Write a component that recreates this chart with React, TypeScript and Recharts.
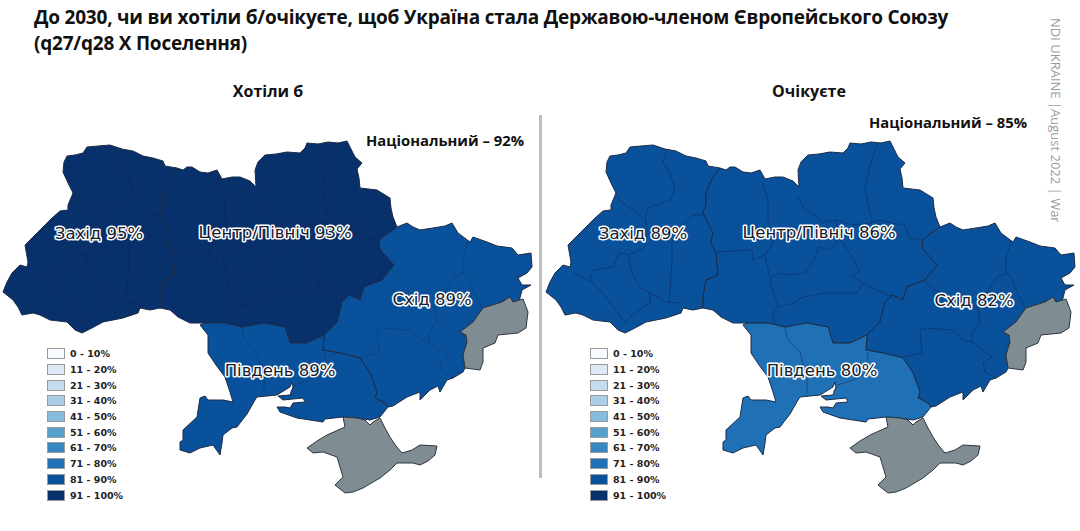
import React from "react";
import { ScatterChart, Scatter, XAxis, YAxis, Legend } from "recharts";

type Pt = [number, number];

const regionNames = ["Захід", "Центр/Північ", "Схід", "Південь"];
const wantValues = [95, 93, 89, 89];
const expectValues = [89, 86, 82, 80];
const labelAnchors: Pt[] = [[99, 233], [275, 232], [432, 299], [280, 370]];
const expectAnchors: Pt[] = [[100, 233], [276, 232], [431, 300], [279, 370]];
const nationalValues = [92, 85];
const panelTitles = ["Хотіли б", "Очікуєте"];
const legendLabels = ["0 - 10%", "11 - 20%", "21 - 30%", "31 - 40%", "41 - 50%", "51 - 60%", "61 - 70%", "71 - 80%", "81 - 90%", "91 - 100%"];
const legendColors = ["#F7FBFF", "#DEEBF7", "#C6DBEF", "#ABCFE6", "#85BCDC", "#57A0CE", "#3787C0", "#2070B6", "#0A519C", "#08306B"];

const westOutline: Pt[] = [[64,162],[67,156],[75,155],[83,153],[87,147],[98,146],[110,145],[122,149],[133,151],[143,156],[153,158],[163,161],[165,166],[177,168],[170,177],[163,193],[163,205],[160,213],[165,223],[170,233],[168,243],[173,253],[175,275],[163,280],[160,297],[160,308],[150,310],[140,308],[138,313],[123,318],[103,322],[92,328],[82,333],[75,330],[67,322],[50,320],[40,315],[33,313],[22,315],[18,307],[13,300],[3,292],[7,282],[12,273],[20,265],[27,267],[28,262],[25,245],[34,236],[43,227],[52,218],[60,211],[68,210],[68,205],[73,193],[68,183],[63,172]];
const centerOutline: Pt[] = [[177,168],[183,170],[187,167],[192,167],[200,172],[208,173],[217,170],[222,179],[232,177],[240,177],[250,181],[256,187],[255,170],[258,162],[265,155],[276,154],[287,152],[300,153],[305,148],[307,143],[318,144],[328,142],[338,143],[347,141],[351,149],[355,157],[362,163],[357,169],[359,178],[360,188],[377,190],[390,198],[391,208],[393,217],[397,227],[380,239],[379,248],[394,265],[382,280],[364,287],[360,300],[349,295],[342,302],[337,322],[324,335],[307,343],[290,343],[285,327],[264,323],[242,327],[225,323],[204,323],[190,323],[178,317],[170,310],[160,308],[160,297],[163,280],[175,275],[173,253],[168,243],[170,233],[165,223],[160,213],[163,205],[163,193],[170,177]];
const eastOutline: Pt[] = [[397,227],[407,223],[413,227],[420,230],[433,228],[445,226],[452,223],[458,233],[470,242],[473,237],[487,242],[497,246],[512,248],[518,255],[531,253],[532,267],[527,273],[518,278],[522,285],[531,285],[522,290],[519,302],[513,302],[510,297],[502,302],[483,308],[473,322],[460,332],[466,335],[467,342],[463,355],[465,368],[463,372],[453,378],[447,380],[440,392],[438,386],[430,390],[420,400],[420,392],[407,397],[393,406],[388,407],[385,403],[375,398],[377,392],[370,373],[360,358],[340,353],[323,350],[324,335],[337,322],[342,302],[349,295],[360,300],[364,287],[382,280],[394,265],[379,248],[380,239]];
const southOutline: Pt[] = [[204,323],[225,323],[242,327],[264,323],[285,327],[290,343],[307,343],[324,335],[323,350],[340,353],[360,358],[370,373],[377,392],[375,398],[385,403],[388,407],[380,417],[370,420],[357,418],[343,417],[325,419],[323,422],[297,418],[280,412],[277,407],[285,407],[290,408],[293,403],[305,402],[303,398],[283,400],[278,396],[290,395],[293,387],[292,382],[290,387],[277,395],[257,397],[255,400],[247,414],[237,427],[232,428],[223,435],[222,443],[220,455],[213,445],[200,448],[190,453],[180,450],[180,442],[183,440],[183,430],[197,417],[200,398],[205,396],[208,400],[223,400],[233,402],[230,392],[225,377],[216,365],[208,353],[208,335],[200,325]];
const donbasOutline: Pt[] = [[460,332],[473,322],[483,308],[502,302],[510,297],[513,302],[523,299],[528,312],[526,328],[518,333],[498,335],[495,343],[483,348],[483,362],[480,370],[465,368],[463,355],[467,342],[466,335]];
const crimeaOutline: Pt[] = [[343,417],[345,427],[327,435],[317,441],[307,448],[313,453],[323,452],[337,457],[340,467],[343,477],[335,485],[345,493],[353,492],[363,488],[380,478],[390,470],[397,463],[413,463],[420,465],[428,461],[435,455],[437,446],[420,445],[412,450],[402,453],[396,446],[390,437],[385,428],[380,418],[373,422],[370,425],[365,420],[357,418]];

const internalBorders: Pt[][] = [
  [[124,150],[120,162],[127,173],[132,190],[127,200],[105,208],[102,217],[104,230],[102,247]],
  [[72,193],[79,203],[90,210],[100,218]],
  [[160,215],[150,215],[140,225],[129,240],[129,263],[126,303]],
  [[102,247],[85,255],[77,253],[70,267],[50,270],[47,280],[63,297],[74,312],[82,323]],
  [[85,255],[89,273],[97,287],[107,293],[124,302],[137,303]],
  [[107,293],[107,303],[89,315],[82,323]],
  [[30,273],[47,281]],
  [[220,183],[225,200],[225,220],[230,243],[222,255],[210,260],[209,250],[174,252]],
  [[255,197],[262,210],[272,215],[279,222],[292,220],[295,230],[294,243],[285,250],[275,247],[272,258],[262,273],[247,275],[237,273],[227,278],[222,255]],
  [[334,145],[327,165],[322,190],[329,220],[327,223],[310,225],[292,220]],
  [[295,237],[307,253],[317,272],[309,275],[320,283],[334,290],[349,297]],
  [[327,223],[337,220],[357,225],[360,223],[367,238],[379,240]],
  [[227,278],[227,283],[235,307],[252,303],[257,298],[280,293],[314,293],[320,283]],
  [[235,307],[229,315],[232,325]],
  [[468,240],[463,258],[463,273],[454,277],[447,288],[435,308],[437,322],[429,332],[429,342]],
  [[463,273],[468,277],[474,292],[482,308]],
  [[382,282],[392,290],[410,298],[435,308]],
  [[360,357],[379,353],[377,330],[382,328],[410,330],[420,340],[429,342],[449,357],[440,363],[442,372],[454,378]],
  [[242,327],[244,338],[257,352],[264,380],[264,393]],
  [[325,352],[324,373],[310,380],[295,385],[290,392]],
];

const GREY = "#7F8C92";
const binColor = (v: number) => legendColors[Math.min(9, Math.floor((v - 1) / 10))];
const toPoints = (pts: Pt[]) => pts.map(([x, y]) => ({ x, y }));
const noShape = () => <g />;
const areaLine = (fill: string, stroke: string, width: number) => (p: any) => (
  <path
    d={"M" + p.points.map((q: any) => `${q.x},${q.y}`).join("L") + "Z"}
    fill={fill}
    stroke={stroke}
    strokeWidth={width}
    strokeLinejoin="round"
  />
);
const strokeLine = (stroke: string, width: number) => (p: any) => (
  <path
    d={"M" + p.points.map((q: any) => `${q.x},${q.y}`).join("L")}
    fill="none"
    stroke={stroke}
    strokeWidth={width}
    strokeLinejoin="round"
  />
);
const haloLabel = (p: any) => (
  <text
    x={p.cx}
    y={p.cy}
    textAnchor="middle"
    dominantBaseline="central"
    fontFamily="'DejaVu Sans'"
    fontSize={16.5}
    fill="#16202e"
    stroke="#fff"
    strokeWidth={3}
    paintOrder="stroke"
    strokeLinejoin="round"
  >
    {p.payload.text}
  </text>
);
const boldLabel = (size: number) => (p: any) => (
  <text
    x={p.cx}
    y={p.cy}
    textAnchor="middle"
    dominantBaseline="central"
    fontFamily="'Open Sans'"
    fontWeight={700}
    fontSize={size}
    fill="#111"
  >
    {p.payload.text}
  </text>
);

const LegendBox = () => (
  <div>
    {legendLabels.map((l, i) => (
      <div key={l} style={{ display: "flex", alignItems: "center", height: 15.7 }}>
        <span
          style={{
            width: 16,
            height: 9,
            background: legendColors[i],
            border: "1px solid #9a9a9a",
            marginRight: 5,
            boxSizing: "content-box",
          }}
        />
        <span style={{ font: "bold 9.5px 'DejaVu Sans'", color: "#222", whiteSpace: "nowrap" }}>{l}</span>
      </div>
    ))}
  </div>
);

function MapPanel({ values, anchors, title, titleAt, national, nationalAt, left, legendLeft }: any) {
  const outlines = [westOutline, centerOutline, eastOutline, southOutline];
  const lineColor = values[0] > 90 ? "rgba(8,28,60,0.32)" : "rgba(10,35,75,0.6)";
  return (
    <div style={{ position: "absolute", left, top: 0 }}>
      <ScatterChart width={540} height={531} margin={{ top: 0, right: 0, bottom: 0, left: 0 }}>
        <XAxis type="number" dataKey="x" domain={[0, 540]} hide />
        <YAxis type="number" dataKey="y" domain={[0, 531]} reversed hide />
        {outlines.map((o, i) => (
          <Scatter
            key={i}
            name={regionNames[i]}
            data={toPoints(o)}
            isAnimationActive={false}
            shape={noShape}
            line={areaLine(binColor(values[i]), "#1b2c47", 1)}
          />
        ))}
        <Scatter name="Донбас" data={toPoints(donbasOutline)} isAnimationActive={false} shape={noShape} line={areaLine(GREY, "#2d3640", 1)} />
        <Scatter name="Крим" data={toPoints(crimeaOutline)} isAnimationActive={false} shape={noShape} line={areaLine(GREY, "#2d3640", 1)} />
        {internalBorders.map((b, i) => (
          <Scatter key={"b" + i} data={toPoints(b)} isAnimationActive={false} shape={noShape} line={strokeLine(lineColor, 0.8)} />
        ))}
        {regionNames.map((n, i) => (
          <Scatter
            key={"l" + i}
            data={[{ x: anchors[i][0], y: anchors[i][1], text: `${n} ${values[i]}%` }]}
            isAnimationActive={false}
            shape={haloLabel}
          />
        ))}
        <Scatter data={[{ x: titleAt[0], y: titleAt[1], text: title }]} isAnimationActive={false} shape={boldLabel(16)} />
        <Scatter data={[{ x: nationalAt[0], y: nationalAt[1], text: `Національний – ${national}%` }]} isAnimationActive={false} shape={boldLabel(14.8)} />
        <Legend
          layout="vertical"
          align="center"
          verticalAlign="middle"
          content={<LegendBox />}
          wrapperStyle={{ position: "absolute", left: legendLeft, top: 346, width: 110 }}
        />
      </ScatterChart>
    </div>
  );
}

export default function App() {
  return (
    <div style={{ position: "absolute", left: 0, top: 0, width: 1080, height: 531, overflow: "hidden", background: "#fff" }}>
      <MapPanel values={wantValues} anchors={labelAnchors} title={panelTitles[0]} titleAt={[268, 91]} national={nationalValues[0]} nationalAt={[445, 140]} left={0} legendLeft={47} />
      <MapPanel values={expectValues} anchors={expectAnchors} title={panelTitles[1]} titleAt={[266, 91]} national={nationalValues[1]} nationalAt={[405, 122]} left={543} legendLeft={47} />
      <div style={{ position: "absolute", left: 539, top: 115, width: 3, height: 363, background: "#bdbdbd" }} />
      <div style={{ position: "absolute", left: 34, top: 4, width: 1000, font: "700 19px/26px 'Open Sans'", letterSpacing: "-0.22px", color: "#111" }}>
        До 2030, чи ви хотіли б/очікуєте, щоб Україна стала Державою-членом Європейського Союзу
        <br />
        (q27/q28 Х Поселення)
      </div>
      <div
        style={{
          position: "absolute",
          left: 1047,
          top: 18,
          writingMode: "vertical-rl",
          font: "13px 'Open Sans'",
          color: "#9a9a9a",
          whiteSpace: "nowrap",
        }}
      >
        NDI UKRAINE |August 2022 | War
      </div>
    </div>
  );
}
